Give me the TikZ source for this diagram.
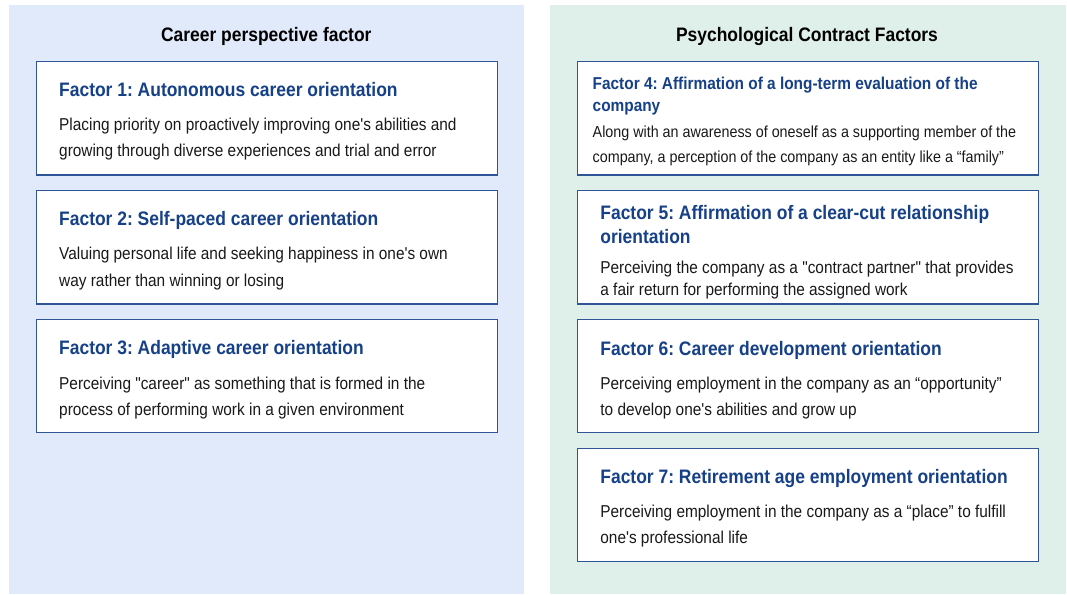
\documentclass[tikz,border=0pt]{standalone}
\usepackage{fontspec}
\setmainfont{Liberation Sans}[FakeStretch=0.895, Ligatures=TeXOff]
\frenchspacing
\definecolor{leftbg}{RGB}{225,234,250}
\definecolor{rightbg}{RGB}{223,239,233}
\definecolor{frame}{RGB}{47,85,151}
\definecolor{titleblue}{RGB}{22,64,135}
\definecolor{bodytext}{RGB}{25,25,25}
\tikzset{
  panel/.style={draw=none, anchor=north west, inner sep=0pt, minimum width=515.5pt, minimum height=589pt},
  factorbox/.style={draw=frame, line width=1.3pt, fill=white, anchor=north west, inner sep=0pt,
                    minimum width=461.3pt, minimum height=113.3pt},
  header/.style={anchor=base, inner sep=0pt, font=\fontsize{19.5pt}{22pt}\selectfont\bfseries, text=black},
  ftitle/.style={anchor=base west, inner sep=0pt, font=\fontsize{19.5pt}{22pt}\selectfont\bfseries, text=titleblue},
  ftitlesmall/.style={anchor=base west, inner sep=0pt, font=\fontsize{17.2pt}{20pt}\selectfont\bfseries, text=titleblue},
  fbody/.style={anchor=base west, inner sep=0pt, font=\fontsize{17.2pt}{20pt}\selectfont, text=bodytext},
  fbodysmall/.style={anchor=base west, inner sep=0pt, font=\fontsize{16pt}{19pt}\selectfont, text=bodytext},
}
\begin{document}
\begin{tikzpicture}[x=1pt,y=-1pt]
\useasboundingbox (0,0) rectangle (1067,594);

% background panels
\node[panel, fill=leftbg] (lpanel) at (8.5,5) {};
\node[panel, fill=rightbg] (rpanel) at (550,5) {};

% column headers
\node[header] (lhead) at (266.3,41.7) {Career perspective factor};
\node[header] (rhead) at (807,41.7) {Psychological Contract Factors};

% left column boxes
\node[factorbox] (box1) at (35.7,61) {};
\node[factorbox] (box2) at (35.7,190) {};
\node[factorbox] (box3) at (35.7,318.7) {};

% right column boxes
\node[factorbox] (box4) at (576.7,61) {};
\node[factorbox] (box5) at (576.7,190) {};
\node[factorbox] (box6) at (576.7,318.7) {};
\node[factorbox] (box7) at (576.7,447.7) {};

% factor 1
\node[ftitle] (t1) at (59,96.7) {Factor 1: Autonomous career orientation};
\node[fbody] (d1a) at (59,130.7) {Placing priority on proactively improving one's abilities and};
\node[fbody] (d1b) at (59,156.7) {growing through diverse experiences and trial and error};

% factor 2
\node[ftitle] (t2) at (59,225) {Factor 2: Self-paced career orientation};
\node[fbody] (d2a) at (59,259.3) {Valuing personal life and seeking happiness in one's own};
\node[fbody] (d2b) at (59,286) {way rather than winning or losing};

% factor 3
\node[ftitle] (t3) at (59,354.3) {Factor 3: Adaptive career orientation};
\node[fbody] (d3a) at (59,389.3) {Perceiving "career" as something that is formed in the};
\node[fbody] (d3b) at (59,415) {process of performing work in a given environment};

% factor 4
\node[ftitlesmall] (t4a) at (592.5,89.3) {Factor 4: Affirmation of a long-term evaluation of the};
\node[ftitlesmall] (t4b) at (592.5,111) {company};
\node[fbodysmall] (d4a) at (592.5,137.7) {Along with an awareness of oneself as a supporting member of the};
\node[fbodysmall] (d4b) at (592.5,162.7) {company, a perception of the company as an entity like a “family”};

% factor 5
\node[ftitle] (t5a) at (600.2,219.3) {Factor 5: Affirmation of a clear-cut relationship};
\node[ftitle] (t5b) at (600.2,243.3) {orientation};
\node[fbody] (d5a) at (600.2,273.3) {Perceiving the company as a "contract partner" that provides};
\node[fbody] (d5b) at (600.2,295) {a fair return for performing the assigned work};

% factor 6
\node[ftitle] (t6) at (600.2,355) {Factor 6: Career development orientation};
\node[fbody] (d6a) at (600.2,389.3) {Perceiving employment in the company as an “opportunity”};
\node[fbody] (d6b) at (600.2,415) {to develop one's abilities and grow up};

% factor 7
\node[ftitle] (t7) at (600.2,483.3) {Factor 7: Retirement age employment orientation};
\node[fbody] (d7a) at (600.2,517.3) {Perceiving employment in the company as a “place” to fulfill};
\node[fbody] (d7b) at (600.2,543.3) {one's professional life};
\end{tikzpicture}
\end{document}
